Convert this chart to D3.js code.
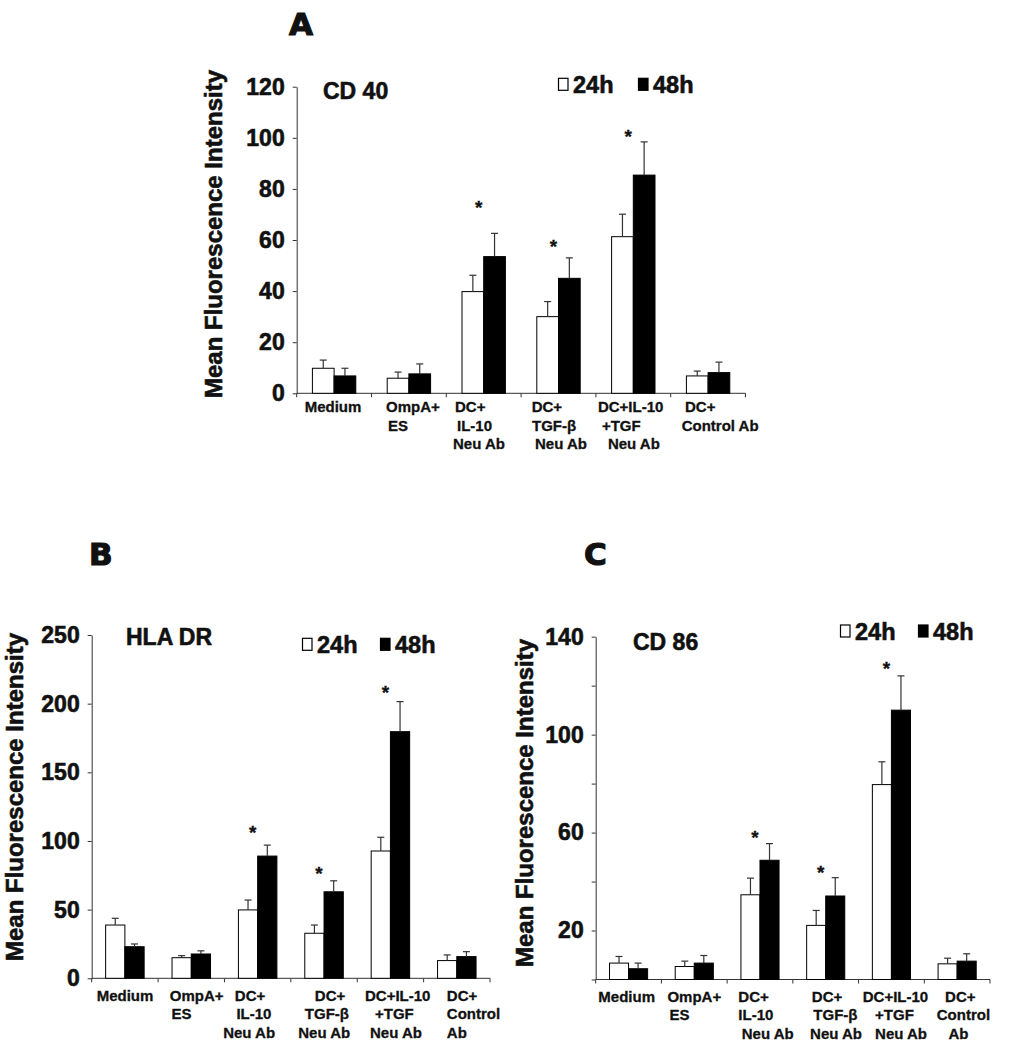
<!DOCTYPE html>
<html>
<head>
<meta charset="utf-8">
<script src="https://cdnjs.cloudflare.com/ajax/libs/d3/7.8.5/d3.min.js"></script>
<style>
  html, body { margin: 0; padding: 0; background: #fff; }
  svg { display: block; }
  text { font-family: "Liberation Sans", Arial, Helvetica, sans-serif; font-weight: bold; fill: #111; }
  .heavy { stroke: #111; stroke-width: 0.6px; }
  .medium { stroke: #111; stroke-width: 0.3px; }
</style>
</head>
<body>
<svg id="chart" width="1010" height="1050"></svg>
<script>
// ---------------- DATA ----------------
const categories = ["Medium", "OmpA+ ES", "DC+ IL-10 Neu Ab", "DC+ TGF-β Neu Ab", "DC+IL-10 +TGF Neu Ab", "DC+ Control Ab"];
const labelLinesA = [["Medium"], ["OmpA+", "ES"], ["DC+", "IL-10", "Neu Ab"], ["DC+", "TGF-β", "Neu Ab"], ["DC+IL-10", "+TGF", "Neu Ab"], ["DC+", "Control Ab"]];
const labelLinesBC = [["Medium"], ["OmpA+", "ES"], ["DC+", "IL-10", "Neu Ab"], ["DC+", "TGF-β", "Neu Ab"], ["DC+IL-10", "+TGF", "Neu Ab"], ["DC+", "Control", "Ab"]];
const seriesNames = ["24h", "48h"];

// Panel A: CD 40
const cd40_24h = [9.8, 5.9, 39.8, 30.0, 61.3, 6.8];
const cd40_24h_err = [3.2, 2.4, 6.4, 5.9, 8.8, 1.9];
const cd40_48h = [6.8, 7.6, 53.5, 45.0, 85.4, 8.1];
const cd40_48h_err = [3.0, 3.9, 9.1, 8.0, 13.0, 4.1];
const cd40_stars = [null, null, 74, 58.7, 101.7, null];
const cd40_ticks = [0, 20, 40, 60, 80, 100, 120];
const cd40_tickLabels = ["0", "20", "40", "60", "80", "100", "120"];

// Panel B: HLA DR
const hla_24h = [38.8, 15.0, 49.8, 32.8, 92.7, 12.9];
const hla_24h_err = [4.9, 1.5, 7.2, 6.0, 10.0, 4.1];
const hla_48h = [23.0, 17.7, 89.0, 63.0, 179.6, 15.8];
const hla_48h_err = [2.0, 2.3, 8.0, 8.0, 21.9, 3.6];
const hla_stars = [null, null, 109, 79, 211, null];
const hla_ticks = [0, 50, 100, 150, 200, 250];
const hla_tickLabels = ["0", "50", "100", "150", "200", "250"];

// Panel C: CD 86
const cd86_24h = [6.7, 5.3, 34.6, 22.1, 79.6, 6.4];
const cd86_24h_err = [2.7, 2.2, 6.8, 6.1, 9.3, 2.3];
const cd86_48h = [4.4, 6.7, 48.7, 34.1, 110.0, 7.5];
const cd86_48h_err = [2.3, 3.1, 6.8, 7.5, 14.0, 3.0];
const cd86_stars = [null, null, 59.6, 45.3, 128.4, null];
const cd86_ticks = [0, 20, 40, 60, 80, 100, 120, 140];
const cd86_tickLabels = ["", "20", "", "60", "", "100", "", "140"];

// ---------------- LAYOUT ----------------
const svg = d3.select("#chart");

const panels = [
  {
    letter: "A", title: "CD 40", labels: labelLinesA,
    v24: cd40_24h, e24: cd40_24h_err, v48: cd40_48h, e48: cd40_48h_err, stars: cd40_stars,
    ticks: cd40_ticks, tickLabels: cd40_tickLabels,
    x0: 296.7, x1: 745.5, yBase: 393.3, yTop: 86.7, yMax: 120,
    letterPos: [289, 35], titlePos: [323, 99], legendPos: [558, 93.3], legendGap: 80,
    yLabelPos: [222, 234],
    labelBase: 412, lineH: 18.5,
    labelOff: [[8], [14.5, 16.5], [8.7, 10.7, 6.7], [10.6, 10.9, 13.9], [2, 6, 12], [14.3, 11]]
  },
  {
    letter: "B", title: "HLA DR", labels: labelLinesBC,
    v24: hla_24h, e24: hla_24h_err, v48: hla_48h, e48: hla_48h_err, stars: hla_stars,
    ticks: hla_ticks, tickLabels: hla_tickLabels,
    x0: 91.7, x1: 490, yBase: 978.3, yTop: 635, yMax: 250,
    letterPos: [89, 565], titlePos: [126, 645], legendPos: [302, 653.3], legendGap: 78,
    yLabelPos: [23, 797],
    labelBase: 1000.5, lineH: 18.7,
    labelOff: [[5], [11.7, 13.4], [10.4, 12, -1.3], [24, 14, 7.4], [7.8, 17.8, 12.8], [23.2, 23.2, 23.2]]
  },
  {
    letter: "C", title: "CD 86", labels: labelLinesBC,
    v24: cd86_24h, e24: cd86_24h_err, v48: cd86_48h, e48: cd86_48h_err, stars: cd86_stars,
    ticks: cd86_ticks, tickLabels: cd86_tickLabels,
    x0: 595.7, x1: 990, yBase: 979.5, yTop: 636.7, yMax: 140,
    letterPos: [584, 565], titlePos: [633, 650], legendPos: [840, 640], legendGap: 78,
    yLabelPos: [533, 803],
    labelBase: 1001.7, lineH: 18.5,
    labelOff: [[2.6], [6, 8], [11.2, 11.2, 14.6], [19, 20.5, 17.2], [4.2, 16.5, 16.5], [20.8, 12.5, 24.1]]
  }
];

function drawPanel(p) {
  const g = svg.append("g");
  const idx = d3.range(categories.length);
  const x = d3.scaleBand().domain(idx).range([p.x0, p.x1]);
  const y = d3.scaleLinear().domain([0, p.yMax]).range([p.yBase, p.yTop]);
  const bw = x.bandwidth() * 0.29;

  // Y axis
  const ya = d3.axisLeft(y)
    .tickValues(p.ticks)
    .tickFormat((v, i) => p.tickLabels[i])
    .tickSize(4).tickSizeOuter(0).tickPadding(8);
  const yg = g.append("g").attr("transform", `translate(${p.x0},0)`).call(ya);
  yg.select(".domain").attr("stroke", "#333").attr("stroke-width", 1);
  yg.selectAll(".tick line").attr("stroke", "#333");
  yg.selectAll(".tick text")
    .attr("class", "heavy")
    .style("font-family", "'Liberation Sans', Arial, sans-serif")
    .style("font-weight", "bold").style("font-size", "23px").attr("fill", "#111");

  // X axis line + boundary ticks
  g.append("line").attr("x1", p.x0).attr("x2", p.x1).attr("y1", p.yBase).attr("y2", p.yBase)
    .attr("stroke", "#333").attr("stroke-width", 1);
  const bounds = idx.map(i => x(i)).concat([p.x1]);
  g.selectAll(".xt").data(bounds).join("line")
    .attr("x1", d => d).attr("x2", d => d)
    .attr("y1", p.yBase).attr("y2", p.yBase + 4)
    .attr("stroke", "#333");

  // Bars
  const series = [
    { vals: p.v24, errs: p.e24, fill: "#fff", off: -1 },
    { vals: p.v48, errs: p.e48, fill: "#000", off: 0 }
  ];
  series.forEach(s => {
    g.selectAll(null).data(idx).join("rect")
      .attr("x", i => x(i) + x.bandwidth() / 2 + s.off * bw)
      .attr("y", i => y(s.vals[i]))
      .attr("width", bw)
      .attr("height", i => p.yBase - y(s.vals[i]))
      .attr("fill", s.fill)
      .attr("stroke", "#000").attr("stroke-width", 1);
    // error bars
    const ex = i => x(i) + x.bandwidth() / 2 + s.off * bw + bw / 2;
    g.selectAll(null).data(idx).join("line")
      .attr("x1", ex).attr("x2", ex)
      .attr("y1", i => y(s.vals[i])).attr("y2", i => y(s.vals[i] + s.errs[i]))
      .attr("stroke", "#333").attr("stroke-width", 1.2);
    g.selectAll(null).data(idx).join("line")
      .attr("x1", i => ex(i) - 3.5).attr("x2", i => ex(i) + 3.5)
      .attr("y1", i => y(s.vals[i] + s.errs[i])).attr("y2", i => y(s.vals[i] + s.errs[i]))
      .attr("stroke", "#333").attr("stroke-width", 1.2);
  });

  // Significance stars
  g.selectAll(null).data(idx.filter(i => p.stars[i] != null)).join("text")
    .attr("class", "medium")
    .attr("x", i => x(i) + x.bandwidth() / 2 - 5)
    .attr("y", i => y(p.stars[i]) + 10)
    .attr("text-anchor", "middle")
    .style("font-size", "19px")
    .text("*");

  // Category labels
  idx.forEach(i => {
    p.labels[i].forEach((line, j) => {
      g.append("text")
        .attr("class", "medium")
        .attr("x", x(i) + p.labelOff[i][j])
        .attr("y", p.labelBase + j * p.lineH)
        .style("font-size", "15px")
        .text(line);
    });
  });

  // Title
  g.append("text").attr("class", "heavy").attr("x", p.titlePos[0]).attr("y", p.titlePos[1])
    .style("font-size", "23px").text(p.title);

  // Legend
  const [lx, ly] = p.legendPos;
  [0, 1].forEach(k => {
    const bx = lx + k * p.legendGap;
    g.append("rect").attr("x", bx + 0.5).attr("y", ly - 15).attr("width", 9.5).attr("height", 12)
      .attr("fill", k === 0 ? "#fff" : "#000").attr("stroke", "#000").attr("stroke-width", 1.2);
    g.append("text").attr("class", "heavy").attr("x", bx + 15).attr("y", ly)
      .style("font-size", "23.5px").text(seriesNames[k]);
  });

  // Y axis title
  g.append("text")
    .attr("class", "heavy")
    .attr("transform", `translate(${p.yLabelPos[0]},${p.yLabelPos[1]}) rotate(-90)`)
    .attr("text-anchor", "middle")
    .style("font-size", "24px")
    .text("Mean Fluorescence Intensity");

  // Panel letter
  g.append("text").attr("x", p.letterPos[0]).attr("y", p.letterPos[1])
    .style("font-family", "'DejaVu Sans', sans-serif").style("font-weight", "bold")
    .style("font-size", "31px").attr("stroke", "#111").attr("stroke-width", 1.2)
    .text(p.letter);
}

panels.forEach(drawPanel);
</script>
</body>
</html>
